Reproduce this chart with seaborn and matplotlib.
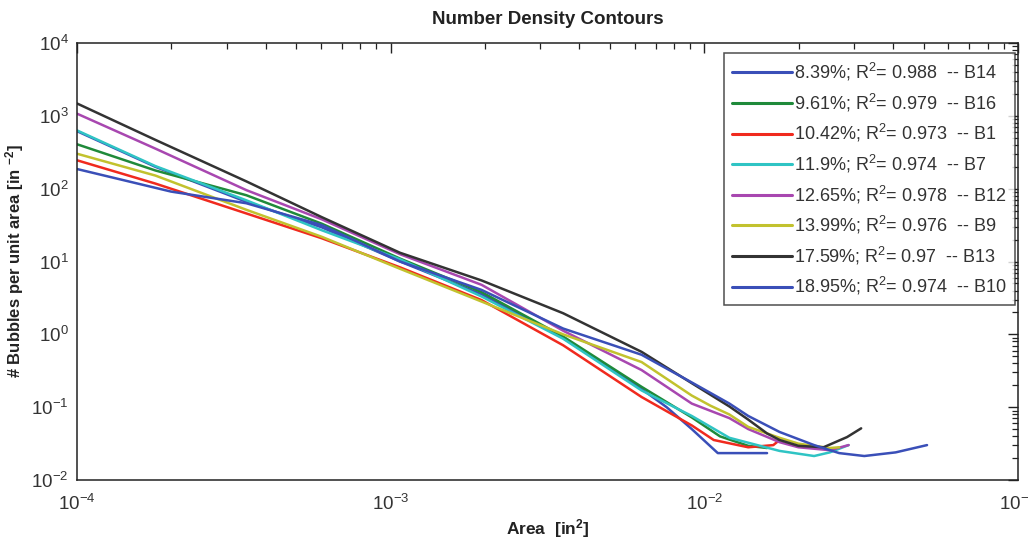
import numpy as np
import pandas as pd
import matplotlib
matplotlib.use("Agg")
import matplotlib.pyplot as plt
import matplotlib.ticker as mticker
import seaborn as sns

# ---- data (log10 values) ----
labels = [
    "8.39%; R$^2$= 0.988  -- B14",
    "9.61%; R$^2$= 0.979  -- B16",
    "10.42%; R$^2$= 0.973  -- B1",
    "11.9%; R$^2$= 0.974  -- B7",
    "12.65%; R$^2$= 0.978  -- B12",
    "13.99%; R$^2$= 0.976  -- B9",
    "17.59%; R$^2$= 0.97  -- B13",
    "18.95%; R$^2$= 0.974  -- B10",
]
colors = ["#3a4fb8", "#1f8a3a", "#f02a1e", "#2fc4c4", "#a847b0", "#c2c22e", "#333333", "#3a4fb8"]

b14_x = [-4.0, -3.75, -3.46, -3.22, -2.97, -2.71, -2.45, -2.2, -2.12, -2.04, -1.957, -1.80]
b14_y = [2.79, 2.30, 1.82, 1.47, 1.00, 0.55, -0.05, -0.75, -1.00, -1.30, -1.63, -1.63]

b16_x = [-4.0, -3.75, -3.46, -3.22, -2.97, -2.71, -2.45, -2.2, -2.04, -1.95, -1.86, -1.80]
b16_y = [2.61, 2.25, 1.91, 1.52, 1.04, 0.58, -0.03, -0.72, -1.14, -1.40, -1.53, -1.56]

b1_x = [-4.0, -3.75, -3.46, -3.22, -2.97, -2.71, -2.45, -2.2, -2.04, -1.97, -1.86, -1.78, -1.76]
b1_y = [2.39, 2.07, 1.66, 1.32, 0.92, 0.47, -0.15, -0.86, -1.25, -1.45, -1.55, -1.52, -1.45]

b7_x = [-4.0, -3.75, -3.46, -3.22, -2.97, -2.71, -2.45, -2.2, -2.04, -1.92, -1.76, -1.65, -1.60, -1.54]
b7_y = [2.80, 2.31, 1.84, 1.43, 1.03, 0.52, -0.06, -0.77, -1.12, -1.42, -1.60, -1.67, -1.62, -1.52]

b12_x = [-4.0, -3.75, -3.46, -3.22, -2.97, -2.71, -2.45, -2.2, -2.04, -1.92, -1.86, -1.76, -1.70, -1.60, -1.54]
b12_y = [3.03, 2.55, 1.98, 1.58, 1.10, 0.68, 0.05, -0.49, -0.95, -1.15, -1.30, -1.48, -1.55, -1.59, -1.52]

b9_x = [-4.0, -3.75, -3.46, -3.22, -2.97, -2.71, -2.45, -2.2, -2.04, -1.98, -1.92, -1.86, -1.76, -1.70, -1.60, -1.57]
b9_y = [2.48, 2.18, 1.71, 1.34, 0.90, 0.45, 0.00, -0.38, -0.84, -0.98, -1.10, -1.27, -1.42, -1.50, -1.56, -1.55]

b13_x = [-4.0, -3.75, -3.46, -3.22, -2.97, -2.71, -2.45, -2.2, -2.04, -1.92, -1.86, -1.80, -1.76, -1.70, -1.62, -1.545, -1.50]
b13_y = [3.17, 2.67, 2.10, 1.61, 1.12, 0.74, 0.29, -0.24, -0.67, -0.99, -1.17, -1.36, -1.45, -1.53, -1.55, -1.41, -1.29]

b10_x = [-4.0, -3.70, -3.46, -3.22, -2.97, -2.71, -2.45, -2.2, -2.04, -1.92, -1.86, -1.76, -1.65, -1.57, -1.49, -1.39, -1.29]
b10_y = [2.27, 1.96, 1.80, 1.50, 1.00, 0.61, 0.08, -0.28, -0.66, -0.95, -1.12, -1.34, -1.52, -1.63, -1.67, -1.62, -1.52]

series_x = [b14_x, b16_x, b1_x, b7_x, b12_x, b9_x, b13_x, b10_x]
series_y = [b14_y, b16_y, b1_y, b7_y, b12_y, b9_y, b13_y, b10_y]

rows = []
for lab, xs, ys in zip(labels, series_x, series_y):
    for i, (a, b) in enumerate(zip(xs, ys)):
        rows.append({"series": lab, "order": i, "area": 10.0 ** a, "density": 10.0 ** b})
df = pd.DataFrame(rows)

# ---- style ----
sns.set_theme(style="white")
plt.rcParams["font.family"] = ["Liberation Sans", "DejaVu Sans"]
plt.rcParams["mathtext.fontset"] = "custom"
plt.rcParams["mathtext.rm"] = "Liberation Sans"
plt.rcParams["mathtext.it"] = "Liberation Sans:italic"
plt.rcParams["mathtext.bf"] = "Liberation Sans:bold"

fig = plt.figure(figsize=(10.29, 5.40), dpi=100)
ax = fig.add_axes([0.0748, 0.111, 0.9145, 0.8094])

palette = dict(zip(labels, colors))
sns.lineplot(data=df, x="area", y="density", hue="series", hue_order=labels,
             palette=palette, estimator=None, sort=False, units="series",
             linewidth=1.8, ax=ax, legend=False)

ax.set_xscale("log")
ax.set_yscale("log")
ax.set_xlim(1e-4, 1e-1)
ax.set_ylim(1e-2, 1e4)

ax.xaxis.set_major_locator(mticker.LogLocator(base=10, numticks=10))
ax.yaxis.set_major_locator(mticker.LogLocator(base=10, numticks=10))
ax.xaxis.set_minor_locator(mticker.LogLocator(base=10, subs=np.arange(2, 10), numticks=20))
ax.yaxis.set_minor_locator(mticker.LogLocator(base=10, subs=np.arange(2, 10), numticks=20))
ax.xaxis.set_minor_formatter(mticker.NullFormatter())
ax.yaxis.set_minor_formatter(mticker.NullFormatter())

ax.tick_params(which="both", direction="in", top=True, right=True, colors="#222222",
               labelsize=13.5, labelcolor="#333333")
ax.tick_params(which="major", length=7, width=1.0)
ax.tick_params(axis="x", which="major", pad=10)
ax.tick_params(axis="y", which="major", pad=6)
ax.tick_params(which="minor", length=4, width=0.9)
for s in ax.spines.values():
    s.set_color("#222222")
    s.set_linewidth(1.1)

ax.set_title("Number Density Contours", fontsize=13.5, fontweight="bold", pad=14, color="#222222")
ax.set_xlabel("Area  [in$^\\mathbf{2}$]", fontsize=12.5, fontweight="bold", labelpad=2, color="#222222")
ax.set_ylabel("# Bubbles per unit area [in $^{\\mathbf{-2}}$]", fontsize=12, fontweight="bold", labelpad=4, color="#222222")

handles = [plt.Line2D([0], [0], color=c, lw=2.2) for c in colors]
leg = ax.legend(handles, labels, loc="upper right", bbox_to_anchor=(0.997, 0.977),
                borderaxespad=0, fontsize=13, frameon=True, fancybox=False,
                handlelength=3.3, handletextpad=0.15, labelspacing=0.47,
                borderpad=0.45, edgecolor="#222222")
leg.get_frame().set_linewidth(1.1)
for t in leg.get_texts():
    t.set_color("#333333")

fig.savefig("out.png", dpi=100, facecolor="white")
